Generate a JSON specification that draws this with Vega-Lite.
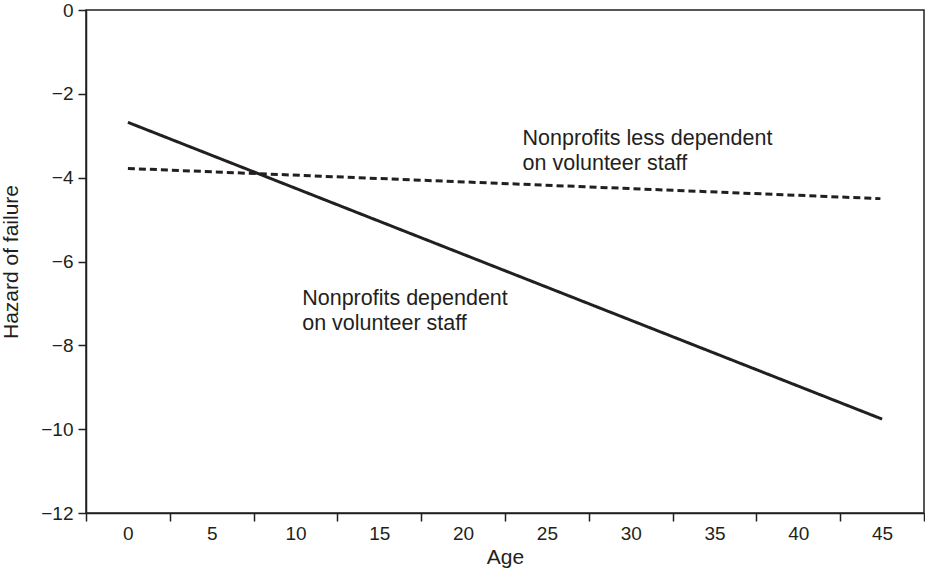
{
  "$schema": "https://vega.github.io/schema/vega-lite/v6.json",
  "width": 838,
  "height": 503,
  "autosize": {"type": "none"},
  "padding": {"left": 86, "top": 10, "right": 1, "bottom": 58},
  "background": "white",
  "config": {
    "view": {"stroke": "#231f20", "strokeWidth": 1.5},
    "font": "Liberation Sans",
    "axis": {
      "domainColor": "#231f20",
      "domainWidth": 1.5,
      "tickColor": "#231f20",
      "tickWidth": 1.5,
      "tickSize": 8,
      "grid": false,
      "labelFont": "Liberation Sans",
      "labelFontSize": 19,
      "labelColor": "#231f20",
      "titleFont": "Liberation Sans",
      "titleFontSize": 21,
      "titleFontWeight": "normal",
      "titleColor": "#231f20"
    }
  },
  "datasets": {
    "lines": [
      {"series": "Nonprofits dependent on volunteer staff", "age": 0, "hazard": -2.68},
      {"series": "Nonprofits dependent on volunteer staff", "age": 45, "hazard": -9.76},
      {"series": "Nonprofits less dependent on volunteer staff", "age": 0, "hazard": -3.78},
      {"series": "Nonprofits less dependent on volunteer staff", "age": 44.9, "hazard": -4.5}
    ],
    "labels": [
      {"age": 23.55, "hazard": -3.21, "text": "Nonprofits less dependent"},
      {"age": 23.55, "hazard": -3.82, "text": "on volunteer staff"},
      {"age": 10.4, "hazard": -7.03, "text": "Nonprofits dependent"},
      {"age": 10.4, "hazard": -7.64, "text": "on volunteer staff"}
    ]
  },
  "layer": [
    {
      "data": {"name": "lines"},
      "mark": {"type": "line", "strokeWidth": 3, "color": "#231f20", "clip": true},
      "encoding": {
        "x": {
          "field": "age",
          "type": "quantitative",
          "scale": {"domain": [-2.5, 47.5], "nice": false, "zero": false},
          "axis": {
            "title": "Age",
            "values": [-2.5, 2.5, 7.5, 12.5, 17.5, 22.5, 27.5, 32.5, 37.5, 42.5, 47.5],
            "labelExpr": "datum.value > 45 ? '' : format(datum.value + 2.5, 'd')",
            "labelOffset": 41.9,
            "labelPadding": 3,
            "labelFlush": false,
            "labelOverlap": false,
            "labelBound": false,
            "titlePadding": 3
          }
        },
        "y": {
          "field": "hazard",
          "type": "quantitative",
          "scale": {"domain": [-12, 0], "nice": false, "zero": false},
          "axis": {
            "title": "Hazard of failure",
            "values": [0, -2, -4, -6, -8, -10, -12],
            "labelPadding": 5,
            "titlePadding": 19
          }
        },
        "strokeDash": {
          "field": "series",
          "type": "nominal",
          "scale": {"domain": ["Nonprofits dependent on volunteer staff", "Nonprofits less dependent on volunteer staff"], "range": [[1, 0], [7, 4]]},
          "legend": null
        }
      }
    },
    {
      "data": {"name": "labels"},
      "mark": {"type": "text", "align": "left", "baseline": "alphabetic", "fontSize": 21.5, "font": "Liberation Sans", "color": "#231f20"},
      "encoding": {
        "x": {"field": "age", "type": "quantitative"},
        "y": {"field": "hazard", "type": "quantitative"},
        "text": {"field": "text"}
      }
    }
  ]
}
